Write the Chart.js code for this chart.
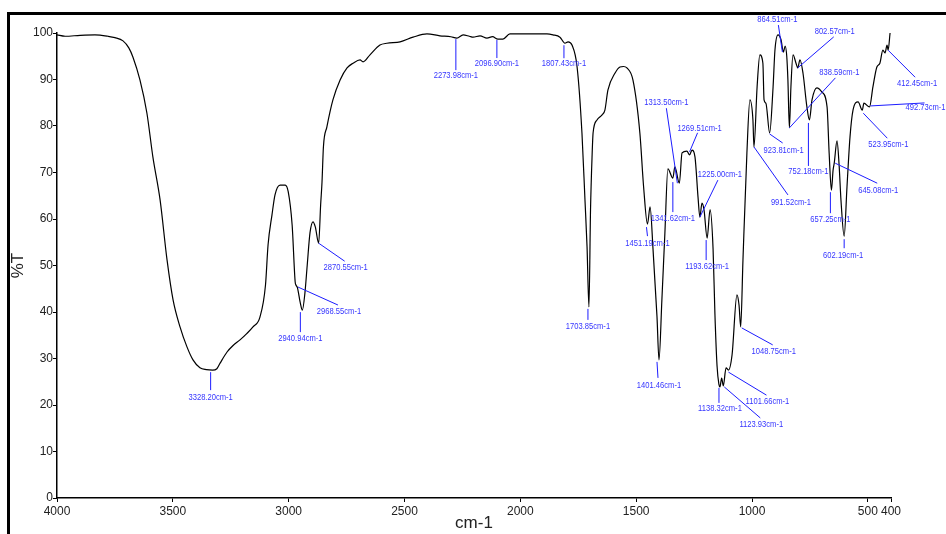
<!DOCTYPE html>
<html>
<head>
<meta charset="utf-8">
<script src="https://cdn.jsdelivr.net/npm/chart.js@4.4.1/dist/chart.umd.min.js"></script>
<style>
  html, body { margin: 0; padding: 0; background: #fff; }
  #wrap { width: 946px; height: 534px; }
</style>
</head>
<body>
<div id="wrap"><canvas id="myChart" width="946" height="534"></canvas></div>
<script>
// IR spectrum: wavenumber (cm-1) against %T
const wavenumbers = [
  4000, 3965, 3900, 3836, 3780, 3750, 3715, 3690, 3672, 3642, 3612, 3586, 3555, 3525, 3499, 3469,
  3439, 3413, 3383, 3355, 3328.20, 3310, 3296, 3266, 3240, 3210, 3180, 3154, 3124, 3100, 3089, 3072,
  3059, 3037, 3015, 3002, 2985, 2972, 2968.55, 2962, 2950, 2940.94, 2930, 2920, 2908, 2895, 2885, 2870.55,
  2862, 2856, 2850, 2835, 2809, 2778, 2748, 2722, 2692, 2679, 2649, 2606, 2576, 2519, 2463, 2403,
  2347, 2300, 2273.98, 2247, 2220, 2204, 2174, 2144, 2120, 2096.90, 2075, 2045, 1945, 1885, 1859, 1829,
  1807.43, 1794, 1777, 1755, 1734, 1721, 1712, 1703.85, 1697, 1690, 1686, 1669, 1647, 1635, 1622, 1591,
  1570, 1555, 1540, 1514, 1484, 1468, 1451.19, 1440, 1427, 1410, 1401.46, 1389, 1376, 1363, 1341.62, 1333,
  1313.50, 1302, 1281, 1269.51, 1259, 1246, 1233, 1225.00, 1216, 1207, 1193.62, 1181, 1168, 1160, 1151, 1143,
  1138.32, 1131, 1123.93, 1112, 1101.66, 1086, 1065, 1056, 1048.75, 1039, 1022, 1009, 996, 991.52, 978, 966,
  953, 948, 940, 923.81, 909, 901, 888, 875, 864.51, 857, 850, 845, 838.59, 832, 823, 810,
  802.57, 793, 780, 763, 752.18, 741, 720, 698, 676, 667, 657.25, 650, 645.08, 633, 624, 616,
  602.19, 590, 577, 564, 542, 523.95, 517, 492.73, 478, 461, 448, 435, 426, 417, 412.45, 404
];
const transmittance = [
  99.6, 99.3, 99.5, 99.6, 99.3, 99.0, 98.3, 96.8, 94.8, 89.9, 82.8, 73.3, 64.1, 51.2, 42.6, 36.8,
  32.5, 29.7, 28.0, 27.6, 27.5, 27.8, 29.0, 31.4, 32.8, 34.0, 35.4, 36.8, 38.9, 45.8, 54.4, 60.9,
  65.2, 67.3, 67.3, 65.9, 58.7, 46.5, 45.8, 45.2, 42.0, 40.4, 44.0, 50.0, 57.0, 59.4, 58.3, 54.8,
  63.0, 68.0, 75.5, 79.8, 85.6, 89.9, 92.5, 93.5, 94.2, 93.8, 95.3, 97.4, 97.8, 98.1, 99.1, 99.8,
  99.4, 99.2, 98.9, 99.6, 99.3, 99.1, 99.4, 98.9, 99.2, 98.7, 98.7, 99.8, 99.8, 99.8, 99.6, 99.1,
  97.8, 98.1, 97.4, 92.7, 78.5, 64.1, 54.0, 41.1, 62.0, 74.0, 78.5, 81.3, 82.4, 83.4, 87.7, 91.4,
  92.7, 92.8, 92.5, 89.9, 78.5, 67.0, 58.9, 62.6, 53.3, 38.9, 29.7, 42.6, 57.0, 70.8, 68.8, 71.2,
  67.7, 74.2, 74.6, 73.8, 74.8, 73.3, 64.7, 60.4, 63.4, 61.9, 55.9, 62.0, 53.5, 39.5, 28.5, 24.5,
  23.9, 25.8, 24.1, 28.0, 27.5, 30.8, 43.7, 41.5, 36.8, 51.2, 74.2, 85.6, 81.3, 75.5, 88.4, 95.3,
  93.5, 85.6, 84.9, 78.5, 88.4, 96.3, 99.6, 98.6, 95.9, 97.2, 95.0, 89.9, 79.6, 88.4, 95.3, 93.5,
  92.5, 94.2, 91.4, 84.1, 81.3, 85.6, 88.2, 87.3, 84.1, 74.2, 66.2, 70.5, 72.0, 76.8, 71.6, 64.1,
  56.3, 66.9, 77.6, 83.4, 85.2, 83.4, 84.9, 84.1, 88.4, 92.7, 93.5, 96.3, 95.7, 97.4, 96.3, 100
];

// labelled peaks (cm-1)
const peakWn = [
  3328.20, 2968.55, 2940.94, 2870.55, 2273.98, 2096.90, 1807.43, 1703.85, 1451.19, 1401.46, 1341.62,
  1313.50, 1269.51, 1225.00, 1193.62, 1138.32, 1123.93, 1101.66, 1048.75, 991.52, 923.81, 864.51,
  838.59, 802.57, 752.18, 657.25, 645.08, 602.19, 523.95, 492.73, 412.45
];
// pixel offsets from the peak: line start, line end, label centre
const peakLayout = [
  [-2, 2, -2, 20, -2, 27], [2, 2, 42, 20, 43, 26], [-2, 2, -2, 22, -2, 28], [0, 0, 26, 18, 27, 24],
  [-1, 1, -1, 32, -1, 37], [-1, 1, -1, 19, -1, 24], [-1, 2, -1, 15, -1, 20], [-1, 2, -1, 13, -1, 19],
  [-1, 3, 0, 12, 0, 19], [-2, 2, -1, 18, 0, 25], [0, 4, 0, 34, 0, 40], [-2, 0, -13, -75, -13, -81],
  [0, -3, 8, -22, 10, -26], [0, 0, 18, -37, 20, -43], [-1, 2, -1, 22, 0, 28], [-1, 1, -1, 16, 0, 22],
  [1, 1, 37, 32, 38, 38], [0, 2, 38, 25, 39, 31], [1, 1, 32, 18, 33, 24], [0, 0, 34, 48, 37, 55],
  [0, 1, 13, 10, 14, 17], [-1, 0, -5, -27, -6, -33], [0, 0, 46, -50, 50, -55], [0, 0, 36, -31, 37, -37],
  [-1, 3, -1, 46, -1, 51], [-1, 2, -1, 23, -1, 29], [1, 0, 43, 20, 44, 27], [0, 3, 0, 12, -1, 19],
  [1, 3, 25, 28, 26, 34], [1, -1, 55, -4, 56, 0], [0, 0, 27, 27, 29, 33]
];

const xTicks = [4000, 3500, 3000, 2500, 2000, 1500, 1000, 500, 400];
const yTicks = [0, 10, 20, 30, 40, 50, 60, 70, 80, 90, 100];

const fontFam = '"Liberation Sans", Arial, sans-serif';

const framePlugin = {
  id: 'frame',
  beforeDraw(chart) {
    const ctx = chart.ctx;
    ctx.save();
    ctx.fillStyle = '#fff';
    ctx.fillRect(0, 0, chart.width, chart.height);
    ctx.strokeStyle = '#000';
    ctx.lineWidth = 3;
    ctx.beginPath();
    ctx.moveTo(8.5, chart.height);
    ctx.lineTo(8.5, 13.5);
    ctx.lineTo(chart.width, 13.5);
    ctx.stroke();
    ctx.restore();
  }
};

const peakLabels = {
  id: 'peakLabels',
  afterDatasetsDraw(chart) {
    const ctx = chart.ctx;
    const xs = chart.scales.x, ys = chart.scales.y;
    ctx.save();
    peakWn.forEach((wn, i) => {
      const t = transmittance[wavenumbers.indexOf(wn)];
      const px = xs.getPixelForValue(wn);
      const py = ys.getPixelForValue(t);
      const L = peakLayout[i];
      ctx.strokeStyle = '#1c1cff';
      ctx.lineWidth = 1;
      ctx.beginPath();
      ctx.moveTo(px + L[0], py + L[1]);
      ctx.lineTo(px + L[2], py + L[3]);
      ctx.stroke();
      ctx.save();
      ctx.translate(px + L[4], py + L[5]);
      ctx.scale(0.8, 1);
      ctx.fillStyle = '#3535ff';
      ctx.font = '9.5px "Liberation Sans", Arial, sans-serif';
      ctx.textAlign = 'center';
      ctx.textBaseline = 'middle';
      ctx.fillText(wn.toFixed(2) + 'cm-1', 0, 0);
      ctx.restore();
    });
    ctx.restore();
  }
};

const points = wavenumbers.map((w, i) => ({ x: w, y: transmittance[i] }));

new Chart(document.getElementById('myChart'), {
  type: 'scatter',
  data: {
    datasets: [{
      data: points,
      showLine: true,
      borderColor: '#000',
      borderWidth: 1.2,
      pointRadius: 0,
      cubicInterpolationMode: 'monotone',
      fill: false
    }]
  },
  options: {
    responsive: false,
    animation: false,
    events: [],
    layout: { padding: { left: 0, top: 33, right: 55, bottom: 0 } },
    plugins: { legend: { display: false }, tooltip: { enabled: false } },
    scales: {
      x: {
        type: 'linear',
        reverse: true,
        min: 400,
        max: 4000,
        afterBuildTicks: s => { s.ticks = xTicks.map(v => ({ value: v })); },
        afterFit: s => { s.height = 36; },
        ticks: {
          autoSkip: false,
          maxRotation: 0,
          padding: 2,
          color: '#222',
          font: { family: fontFam, size: 12 },
          callback: v => String(v)
        },
        grid: { display: true, drawOnChartArea: false, drawTicks: true, tickLength: 4, color: '#000', lineWidth: 1 },
        border: { display: true, color: '#000', width: 1.5 },
        title: {
          display: true,
          text: 'cm-1',
          color: '#222',
          padding: { top: 0, bottom: 0 },
          font: { family: fontFam, size: 17 }
        }
      },
      y: {
        min: 0,
        max: 100,
        afterBuildTicks: s => { s.ticks = yTicks.map(v => ({ value: v })); },
        afterFit: s => { s.width = 57; },
        ticks: {
          padding: 0,
          color: '#222',
          font: { family: fontFam, size: 12 },
          callback: v => String(v)
        },
        grid: { display: true, drawOnChartArea: false, drawTicks: true, tickLength: 4, color: '#000', lineWidth: 1 },
        border: { display: true, color: '#000', width: 1.5 },
        title: {
          display: true,
          text: '%T',
          color: '#222',
          padding: { top: 8, bottom: 0 },
          font: { family: fontFam, size: 17 }
        }
      }
    }
  },
  plugins: [framePlugin, peakLabels]
});
</script>
</body>
</html>
